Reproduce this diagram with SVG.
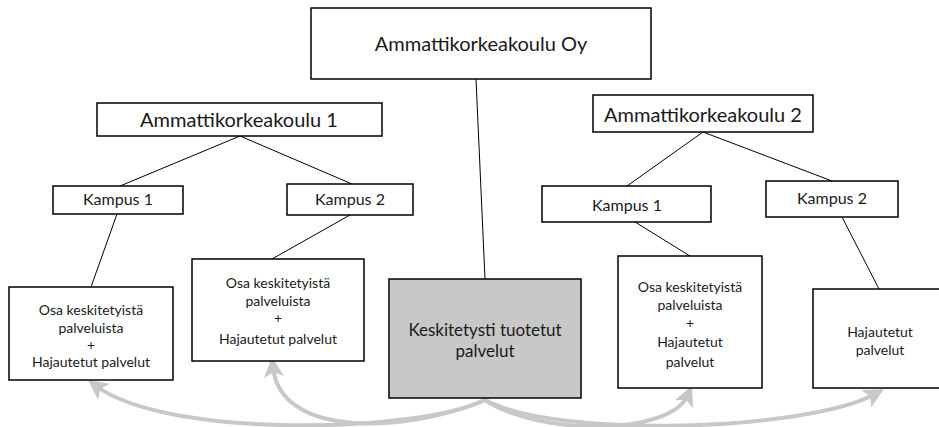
<svg xmlns="http://www.w3.org/2000/svg" width="939" height="427" viewBox="0 0 939 427">
  <style>
    .box { fill: #ffffff; stroke: #000000; stroke-width: 1.5; }
    .core { fill: #c8c8c8; stroke: #000000; stroke-width: 1.5; }
    .link { stroke: #000000; stroke-width: 1; fill: none; }
    .flow { stroke: #c8c8c8; stroke-width: 4; fill: none; marker-end: url(#head); }
    text { font-family: Lato, "Open Sans", "Liberation Sans", sans-serif; fill: #1a1a1a; text-anchor: middle; }
    .t20 { font-size: 20px; }
    .t17 { font-size: 17px; }
    .t16 { font-size: 16px; }
    .t14 { font-size: 14px; }
  </style>
  <defs>
    <marker id="head" markerWidth="5" markerHeight="5" refX="2.5" refY="2.5" orient="auto" markerUnits="strokeWidth" viewBox="0 0 5 5">
      <path d="M0,0 L5,2.5 L0,5 L1.2,2.5 Z" fill="#c8c8c8"/>
    </marker>
  </defs>

  <!-- tree lines -->
  <g id="connectors">
    <line class="link" x1="476" y1="79" x2="485" y2="279"/>
    <line class="link" x1="240" y1="136" x2="120" y2="186"/>
    <line class="link" x1="240" y1="136" x2="352" y2="184"/>
    <line class="link" x1="117" y1="214" x2="91" y2="287"/>
    <line class="link" x1="350" y1="215" x2="272" y2="259"/>
    <line class="link" x1="703" y1="132" x2="627" y2="186"/>
    <line class="link" x1="703" y1="132" x2="832" y2="181"/>
    <line class="link" x1="635" y1="222" x2="690" y2="256"/>
    <line class="link" x1="842" y1="217" x2="879" y2="289"/>
    <!-- service flows from the central unit -->
    <path class="flow" d="M485,400 C420,432 170,440 96,386"/>
    <path class="flow" d="M485,400 C410,432 280,440 273,367"/>
    <path class="flow" d="M485,400 C540,436 670,436 688,395"/>
    <path class="flow" d="M485,400 C560,440 810,430 875,394"/>
  </g>

  <g id="oy">
    <rect class="box" x="311" y="8" width="340" height="71"/>
    <text class="t20" x="481" y="51">Ammattikorkeakoulu Oy</text>
  </g>

  <g id="amk1">
    <rect class="box" x="97" y="103" width="285" height="33"/>
    <text class="t20" x="239" y="127">Ammattikorkeakoulu 1</text>
  </g>
  <g id="amk1-kampus1">
    <rect class="box" x="53" y="186" width="130" height="28"/>
    <text class="t16" x="118" y="205">Kampus 1</text>
  </g>
  <g id="amk1-kampus2">
    <rect class="box" x="287" y="184" width="126" height="31"/>
    <text class="t16" x="350" y="205">Kampus 2</text>
  </g>
  <g id="amk1-k1-palvelut">
    <rect class="box" x="9" y="287" width="164" height="93"/>
    <text class="t14" x="91" y="315">Osa keskitetyistä</text>
    <text class="t14" x="91" y="333">palveluista</text>
    <text class="t14" x="91" y="350">+</text>
    <text class="t14" x="91" y="367">Hajautetut palvelut</text>
  </g>
  <g id="amk1-k2-palvelut">
    <rect class="box" x="192" y="259" width="172" height="102"/>
    <text class="t14" x="278" y="288">Osa keskitetyistä</text>
    <text class="t14" x="278" y="306">palveluista</text>
    <text class="t14" x="278" y="323">+</text>
    <text class="t14" x="278" y="344">Hajautetut palvelut</text>
  </g>

  <g id="keskitetyt">
    <rect class="core" x="389" y="279" width="192" height="119"/>
    <text class="t17" x="485" y="336">Keskitetysti tuotetut</text>
    <text class="t17" x="485" y="357">palvelut</text>
  </g>

  <g id="amk2">
    <rect class="box" x="593" y="95" width="220" height="37"/>
    <text class="t20" x="703" y="122">Ammattikorkeakoulu 2</text>
  </g>
  <g id="amk2-kampus1">
    <rect class="box" x="542" y="186" width="169" height="36"/>
    <text class="t16" x="627" y="211">Kampus 1</text>
  </g>
  <g id="amk2-kampus2">
    <rect class="box" x="766" y="181" width="132" height="36"/>
    <text class="t16" x="832" y="204">Kampus 2</text>
  </g>
  <g id="amk2-k1-palvelut">
    <rect class="box" x="618" y="256" width="144" height="132"/>
    <text class="t14" x="690" y="292">Osa keskitetyistä</text>
    <text class="t14" x="690" y="310">palveluista</text>
    <text class="t14" x="690" y="328">+</text>
    <text class="t14" x="690" y="347">Hajautetut</text>
    <text class="t14" x="690" y="367">palvelut</text>
  </g>
  <g id="amk2-k2-palvelut">
    <rect class="box" x="813" y="289" width="134" height="99"/>
    <text class="t14" x="880" y="337">Hajautetut</text>
    <text class="t14" x="880" y="355">palvelut</text>
  </g>
</svg>
